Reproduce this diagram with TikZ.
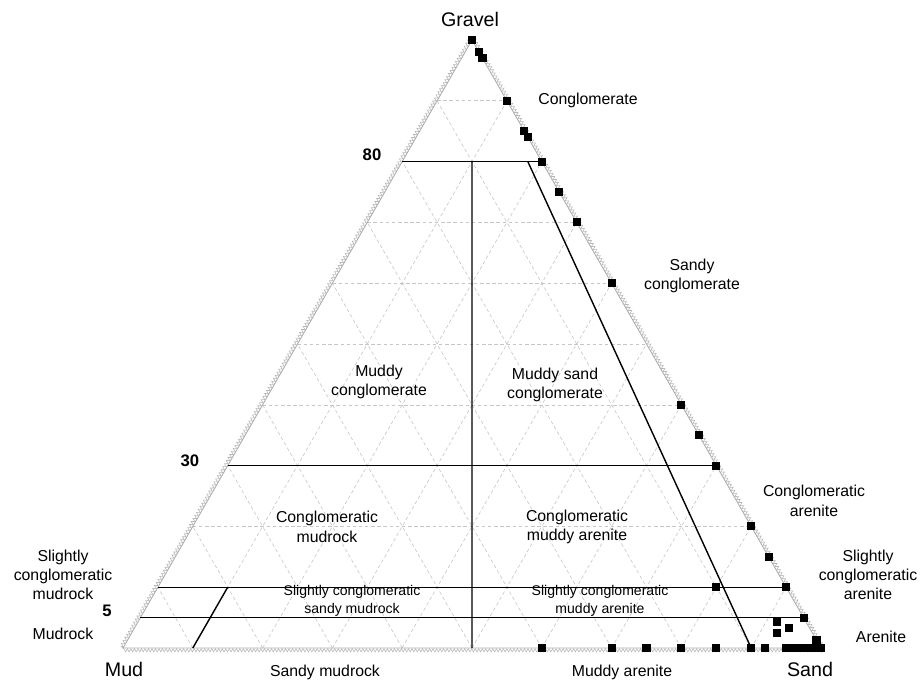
\documentclass[tikz,border=0pt]{standalone}
\usepackage{fontspec}
\setmainfont{Liberation Sans}
\usetikzlibrary{decorations.pathmorphing}

\begin{document}
\begin{tikzpicture}[x=0.02cm, y=0.02cm,
    gridline/.style={gray!45, dash pattern=on 2pt off 1.5pt, line width=0.35pt},
    classline/.style={black, line width=0.8pt},
    sample/.style={rectangle, fill=black, inner sep=0pt, minimum size=4.6pt},
    zone/.style={align=center, font=\fontsize{9}{11}\selectfont},
    smallzone/.style={align=center, font=\fontsize{8}{10}\selectfont},
    pole/.style={font=\fontsize{11.2}{13}\selectfont},
    level/.style={font=\fontsize{9.5}{11}\selectfont\bfseries}]
            \useasboundingbox (-123,-36) rectangle (799,648);
            \coordinate (M) at (0,0);
            \coordinate (S) at (698,0);
            \coordinate (G) at (349,608);

            % grid every 10%
            \foreach \i in {1,...,9} {
                \pgfmathsetmacro\a{\i/10}
                \pgfmathsetmacro\b{1-\i/10}
                \draw[gridline] (barycentric cs:M=\b,G=\a) -- (barycentric cs:S=\b,G=\a);
                \draw[gridline] (barycentric cs:S=\a,M=\b) -- (barycentric cs:S=\a,G=\b);
                \draw[gridline] (barycentric cs:M=\a,S=\b) -- (barycentric cs:M=\a,G=\b);
            }

            % triangle edges with ticks
            \draw[gray!65, line width=0.5pt,
                postaction={decorate, draw=gray!55, line width=0.35pt,
                decoration={zigzag, segment length=2pt, amplitude=0.9pt, raise=-1.3pt}}]
                (M) -- (S) -- (G) -- cycle;

            % class boundaries
            \draw[classline] (barycentric cs:M=.2,G=.8) -- (barycentric cs:S=.2,G=.8);
            \draw[classline] (barycentric cs:M=.7,G=.3) -- (barycentric cs:S=.7,G=.3);
            \draw[classline] (barycentric cs:M=.9,G=.1) -- (barycentric cs:S=.9,G=.1);
            \draw[classline] (barycentric cs:M=.95,G=.05) -- (barycentric cs:S=.95,G=.05);
            \draw[classline] (barycentric cs:M=.1,S=.1,G=.8) -- (barycentric cs:M=.5,S=.5);
            \draw[classline] (barycentric cs:M=.02,S=.18,G=.8) -- (barycentric cs:M=.1,S=.9);
            \draw[classline] (barycentric cs:M=.8,S=.1,G=.1) -- (barycentric cs:M=.9,S=.1);

            % samples (mud/sand/gravel)
            \foreach \m/\s/\g [count=\k] in {0/0/1, 0/.02/.98, 0/.03/.97, 0/.1/.9, 0/.15/.85, 0/.16/.84,
                0/.2/.8, 0/.25/.75, 0/.3/.7, 0/.4/.6, 0/.6/.4, 0/.65/.35, 0/.7/.3, 0/.8/.2,
                0/.85/.15, 0/.9/.1, 0/.95/.05, .1/.8/.1, .041/.916/.043, .03/.937/.033, .05/.925/.025,
                0/.987/.013, .4/.6/0, .3/.7/0, .25/.75/0, .2/.8/0, .15/.85/0, .1/.9/0, .08/.92/0,
                .05/.95/0, .04/.96/0, .03/.97/0, .02/.98/0, .01/.99/0, 0/1/0}
                \node[sample] (d\k) at (barycentric cs:M=\m,S=\s,G=\g) {};

            \node[pole] (gravel) at (347,629) {Gravel};
            \node[pole] (mud) at (1,-21) {Mud};
            \node[pole] (sand) at (687,-21) {Sand};

            \node[level] (l80) at (249,493) {80};
            \node[level] (l30) at (67,187) {30};
            \node[level] (l5) at (-16,37) {5};

            \node[zone] (conglomerate) at (465,548) {Conglomerate};
            \node[zone] (sandyc) at (569,372) {Sandy\\conglomerate};
            \node[zone] (muddyc) at (256,266) {Muddy\\conglomerate};
            \node[zone] (muddysandc) at (432,263) {Muddy sand\\conglomerate};
            \node[zone] (carenite) at (691,147) {Conglomeratic\\arenite};
            \node[zone] (cmudrock) at (204,121) {Conglomeratic\\mudrock};
            \node[zone] (cmuddyarenite) at (454,121) {Conglomeratic\\muddy arenite};
            \node[zone] (scmudrock) at (-60,73) {Slightly\\conglomeratic\\mudrock};
            \node[zone] (mudrock) at (-60,14) {Mudrock};
            \node[smallzone] (scsandymudrock) at (229,47) {Slightly conglomeratic\\sandy mudrock};
            \node[smallzone] (scmuddyarenite) at (477,47) {Slightly conglomeratic\\muddy arenite};
            \node[zone] (scarenite) at (745,73) {Slightly\\conglomeratic\\arenite};
            \node[zone] (arenite) at (758,11) {Arenite};
            \node[zone] (sandymudrock) at (202,-24) {Sandy mudrock};
            \node[zone] (muddyarenite) at (499,-24) {Muddy arenite};
        \end{tikzpicture}
\end{document}
